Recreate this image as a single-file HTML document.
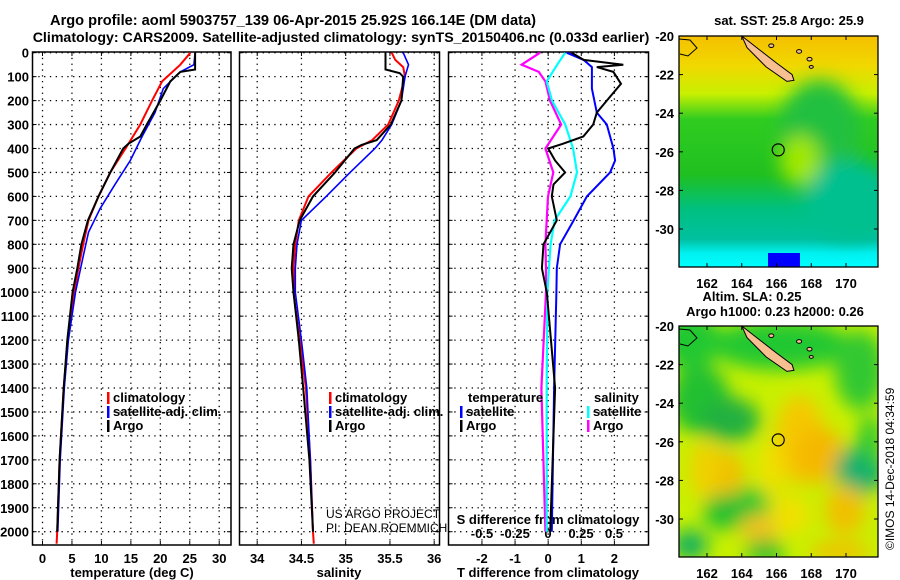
<!DOCTYPE html>
<html><head><meta charset="utf-8"><style>
body{margin:0;background:#fff}
svg{display:block;font-family:"Liberation Sans",sans-serif}
.b{font-weight:bold;font-size:13px}
</style></head><body>
<svg id="s" width="900" height="580" viewBox="0 0 900 580" xmlns="http://www.w3.org/2000/svg">
<defs>
<filter id="bl" x="-50%" y="-50%" width="200%" height="200%"><feGaussianBlur stdDeviation="9"/></filter>
<clipPath id="c1"><rect x="679" y="36" width="199" height="231"/></clipPath>
<clipPath id="c2"><rect x="679" y="326" width="199" height="231"/></clipPath>
<linearGradient id="sst" x1="0" y1="0" x2="0" y2="1">
<stop offset="0" stop-color="#f5c000"/><stop offset="0.13" stop-color="#f0d800"/><stop offset="0.25" stop-color="#c8f000"/>
<stop offset="0.36" stop-color="#30cc20"/><stop offset="0.6" stop-color="#20c020"/><stop offset="0.75" stop-color="#00c080"/>
<stop offset="0.88" stop-color="#00c0a0"/><stop offset="0.94" stop-color="#00f0f0"/><stop offset="1" stop-color="#00ffff"/>
</linearGradient>
</defs>
<text x="293" y="25" class="b" style="font-size:14.6px" text-anchor="middle">Argo profile: aoml 5903757_139 06-Apr-2015 25.92S 166.14E (DM data)</text>
<text x="341" y="42" class="b" style="font-size:14.2px" text-anchor="middle">Climatology: CARS2009. Satellite-adjusted climatology: synTS_20150406.nc (0.033d earlier)</text>
<g id="g"></g>
</svg>
<script>
// ---------- data ----------
var depthTicks=[0,100,200,300,400,500,600,700,800,900,1000,1100,1200,1300,1400,1500,1600,1700,1800,1900,2000];
var tTicks=[0,5,10,15,20,25,30];
var sTicks=[34,34.5,35,35.5,36];
var dTTicks=[-2,-1,0,1,2];
var dSTicks=[-0.5,-0.25,0,0.25,0.5];
var dSLabels=["-0.5","-0.25","0","0.25","0.5"];
var tClimD=[0,50,120,200,300,380,500,600,700,800,900,1000,1200,1400,1700,2000,2050];
var tClim=[25.1,23.4,20.3,18.6,16.6,14.6,11.5,9.5,7.8,6.9,6.1,5.4,4.3,3.6,2.9,2.5,2.4];
var tSatD=[0,50,80,150,250,350,450,550,650,750,850,1000,1200,1400,1700,2000];
var tSat=[25.9,25.7,23.4,20.5,19.1,16.9,14.9,12.3,9.8,7.8,6.9,5.6,4.4,3.7,3.0,2.6];
var tArgoD=[0,70,80,120,200,300,350,380,400,500,600,700,800,900,1000,1200,1400,1700,2000];
var tArgo=[25.9,25.9,23.4,21.7,20.0,17.7,16.6,14.6,13.7,11.5,9.5,7.7,6.6,5.9,5.1,4.2,3.6,2.9,2.5];
var sClimD=[0,30,60,100,200,300,365,400,500,600,700,800,900,1000,1200,1400,1700,2000,2050];
var sClim=[35.52,35.56,35.65,35.67,35.60,35.48,35.30,35.12,34.84,34.58,34.47,34.43,34.41,34.41,34.48,34.55,34.60,34.63,34.64];
var sSatD=[0,50,100,200,300,365,400,500,600,700,800,900,1000,1200,1400,1700,2000];
var sSat=[35.65,35.71,35.67,35.63,35.52,35.41,35.33,35.05,34.78,34.50,34.45,34.43,34.43,34.50,34.56,34.60,34.63];
var sArgoD=[0,70,85,100,200,300,365,385,400,500,600,700,800,900,1000,1200,1400,1700,2000];
var sArgo=[35.45,35.45,35.61,35.65,35.63,35.51,35.35,35.18,35.10,34.88,34.63,34.48,34.41,34.39,34.41,34.47,34.52,34.59,34.63];
var dTArgoD=[0,30,50,60,80,130,200,250,300,350,380,400,450,500,550,600,700,800,900,1000,1400,2000];
var dTArgo=[0.71,1.07,2.27,1.47,1.97,2.2,1.77,1.47,1.36,1.06,0.45,0.0,0.21,0.51,0.16,0.11,0.26,-0.14,-0.19,-0.04,0.21,0.06];
var dTSatD=[0,30,60,150,250,300,400,450,500,600,700,800,900,1000,1400,2000];
var dTSat=[0.56,1.07,1.32,1.32,1.47,1.77,1.97,2.02,1.87,1.17,0.77,0.36,0.26,0.25,0.18,0.11];
var dSArgoD=[0,50,80,120,200,300,400,500,600,700,800,900,1000,1400,2000];
var dSArgo=[-0.06,-0.2,-0.07,-0.02,0.015,0.10,-0.02,0.04,0,-0.01,-0.02,-0.015,-0.015,-0.05,-0.02];
var dSSatD=[0,50,120,200,300,400,500,600,700,800,1000,1400,2000];
var dSSat=[0.13,0.07,-0.01,0.03,0.13,0.19,0.22,0.17,0.05,0.02,-0.005,-0.01,-0.01];
var lonTicks=[162,164,166,168,170];
var latTicks=[-20,-22,-24,-26,-28,-30];
var argoLon=166.1, argoLat=-25.9;

// ---------- helpers ----------
var NS="http://www.w3.org/2000/svg", G=document.getElementById('g');
function mk(t,a,p){var e=document.createElementNS(NS,t);for(var k in a)e.setAttribute(k,a[k]);(p||G).appendChild(e);return e;}
function yD(d){return 52.7+d*0.2395;}
var yTop=52,yBot=545;
var panels=[{x0:32.5,x1:231,lo:-1.7,hi:32.0},{x0:239.5,x1:439.5,lo:33.8,hi:36.06},{x0:448.5,x1:648.5,lo:-3.01,hi:3.03}];
function sx(p,v){var P=panels[p];return P.x0+(v-P.lo)/(P.hi-P.lo)*(P.x1-P.x0);}
function sxS(v){return 548+v*132;}
function line(xs,ds,fx,col,w,name){
  var pts=xs.map(function(v,i){return fx(v).toFixed(1)+','+yD(ds[i]).toFixed(1);}).join(' ');
  var e=mk('polyline',{points:pts,fill:'none',stroke:col,'stroke-width':w});
  
  
}
function txt(x,y,s,opt,name){var e=mk('text',Object.assign({x:x,y:y},opt||{}));e.textContent=s;
  
  return e;}

// grids & frames
panels.forEach(function(P,pi){
  depthTicks.forEach(function(d){var y=yD(d);
    var e=mk('line',{x1:P.x0,x2:P.x1,y1:y,y2:y,stroke:'#000','stroke-dasharray':'1.3,4.5','stroke-width':1.3});
    
    
    mk('line',{x1:P.x0,x2:P.x0+4,y1:y,y2:y,stroke:'#000'});mk('line',{x1:P.x1-4,x2:P.x1,y1:y,y2:y,stroke:'#000'});
  });
  var ticks=pi==0?tTicks:pi==1?sTicks:dTTicks;
  ticks.forEach(function(v){var x=sx(pi,v);
    var e=mk('line',{x1:x,x2:x,y1:yTop,y2:yBot,stroke:'#000','stroke-dasharray':'1.3,4.5','stroke-width':1.3});
    
    
    mk('line',{x1:x,x2:x,y1:yBot-4,y2:yBot,stroke:'#000'});mk('line',{x1:x,x2:x,y1:yTop,y2:yTop+4,stroke:'#000'});
    txt(x,563,String(v),{'class':'b','text-anchor':'middle'},'x-tick-label');
  });
  var f=mk('rect',{x:P.x0,y:yTop,width:P.x1-P.x0,height:yBot-yTop,fill:'none',stroke:'#000','stroke-width':1.5});
  
  
});
depthTicks.forEach(function(d){txt(29,yD(d)+5,String(d),{'class':'b','text-anchor':'end'},'depth-tick-label');});
txt(132,577,'temperature (deg C)',{'class':'b','text-anchor':'middle'},'x-axis-title-temperature');
txt(339,577,'salinity',{'class':'b','text-anchor':'middle'},'x-axis-title-salinity');
txt(548,577,'T difference from climatology',{'class':'b','text-anchor':'middle'},'x-axis-title-t-diff');
txt(548,524,'S difference from climatology',{'class':'b','text-anchor':'middle'},'s-axis-title');
dSTicks.forEach(function(v,i){txt(sxS(v),538,dSLabels[i],{'class':'b','text-anchor':'middle'},'s-tick-label');});

// series
line(tClim,tClimD,function(v){return sx(0,v);},'#f00',2,'temp-climatology-line');
line(tSat,tSatD,function(v){return sx(0,v);},'#00f',1.6,'temp-satellite-line');
line(tArgo,tArgoD,function(v){return sx(0,v);},'#000',2,'temp-argo-line');
line(sClim,sClimD,function(v){return sx(1,v);},'#f00',2,'sal-climatology-line');
line(sSat,sSatD,function(v){return sx(1,v);},'#00f',1.6,'sal-satellite-line');
line(sArgo,sArgoD,function(v){return sx(1,v);},'#000',2,'sal-argo-line');
line(dSArgo,dSArgoD,sxS,'#f0f',2.2,'sdiff-argo-line');
line(dSSat,dSSatD,sxS,'#0ff',2.2,'sdiff-satellite-line');
line(dTSat,dTSatD,function(v){return sx(2,v);},'#00f',2,'tdiff-satellite-line');
line(dTArgo,dTArgoD,function(v){return sx(2,v);},'#000',2,'tdiff-argo-line');

// legends
function leg(x,y,col,s,name){var r=mk('rect',{x:x,y:y-10,width:2.5,height:12,fill:col});
  
  txt(x+6,y,s,{'class':'b'},name);}
leg(107,402,'#f00','climatology','legend-temp-climatology');
leg(107,416,'#00f','satellite-adj. clim.','legend-temp-satellite');
leg(107,430,'#000','Argo','legend-temp-argo');
leg(329,402,'#f00','climatology','legend-sal-climatology');
leg(329,416,'#00f','satellite-adj. clim.','legend-sal-satellite');
leg(329,430,'#000','Argo','legend-sal-argo');
txt(468,402,'temperature',{'class':'b'},'legend-temperature-heading');
leg(460,416,'#00f','satellite','legend-tdiff-satellite');
leg(460,430,'#000','Argo','legend-tdiff-argo');
txt(594,402,'salinity',{'class':'b'},'legend-salinity-heading');
leg(587,416,'#0ff','satellite','legend-sdiff-satellite');
leg(587,430,'#f0f','Argo','legend-sdiff-argo');
txt(326,518,'US ARGO PROJECT',{'font-size':12},'credit-project');
txt(326,532,'PI: DEAN ROEMMICH',{'font-size':12},'credit-pi');

// maps
function mlx(l){return 707+(l-162)*17.375;}
var maps=[{y0:36,clip:'c1',title:['sat. SST: 25.8 Argo: 25.9'],tx:[789],ty:[25]},{y0:326,clip:'c2',title:['Altim. SLA: 0.25','Argo h1000: 0.23 h2000: 0.26'],tx:[752,775],ty:[301,316]}];
maps.forEach(function(M,mi){
  function mly(l){return M.y0+(-20-l)*19.3;}
  var g=mk('g',{'clip-path':'url(#'+M.clip+')'});
  
  
  if(mi==0){
    mk('rect',{x:679,y:36,width:199,height:231,fill:'url(#sst)'},g);
    var b=mk('g',{filter:'url(#bl)'},g);
    mk('ellipse',{cx:820,cy:130,rx:40,ry:50,fill:'#20c040'},b);
    mk('ellipse',{cx:850,cy:200,rx:45,ry:40,fill:'#00c090'},b);
    mk('ellipse',{cx:800,cy:160,rx:20,ry:25,fill:'#a0e800'},b);
    mk('rect',{x:768,y:253,width:32,height:14,fill:'#0000ff'},g);
  } else {
    mk('rect',{x:679,y:326,width:199,height:231,fill:'#c8f000'},g);
    var b=mk('g',{filter:'url(#bl)'},g);
    [[690,340,30,30,'#20c830'],[780,345,70,25,'#20c830'],[860,370,25,40,'#30c830'],[700,400,30,35,'#20c030'],[730,420,30,22,'#20b040'],
     [800,440,25,45,'#f5c800'],[820,455,25,28,'#f5b800'],[860,470,25,25,'#10b070'],[725,475,20,25,'#f0c000'],[705,470,15,30,'#f0d000'],
     [770,470,12,30,'#f0e000'],[750,505,20,18,'#20c830'],[725,512,22,18,'#20c030'],[760,528,20,14,'#f0c020'],[790,515,20,20,'#f0e000'],
     [845,510,20,25,'#f0c000'],[690,545,18,15,'#10b060'],[765,552,20,12,'#20c030'],[840,552,30,10,'#f0c000'],[870,440,12,25,'#30c830']
    ].forEach(function(c){mk('ellipse',{cx:c[0],cy:c[1],rx:c[2],ry:c[3],fill:c[4]},b);});
  }
  // New Caledonia
  var nc=[[164,-20],[165,-20.7],[166,-21.4],[166.9,-22],[167,-22.3],[166.6,-22.35],[165.4,-21.6],[164.3,-20.6]];
  var p=mk('polygon',{points:nc.map(function(q){return mlx(q[0]).toFixed(1)+','+mly(q[1]).toFixed(1);}).join(' '),fill:'#f8c090',stroke:'#000','stroke-width':1},g);
  
  [[167.3,-20.8,0.15],[167.9,-21.2,0.15],[168,-21.6,0.12],[165.7,-20.5,0.15]].forEach(function(q){
    mk('ellipse',{cx:mlx(q[0]),cy:mly(q[1]),rx:q[2]*17,ry:q[2]*12,fill:'#f8c090',stroke:'#000'},g);});
  mk('path',{d:'M679 '+(M.y0+3)+' L690 '+(M.y0+4)+' L697 '+(M.y0+12)+' L688 '+(M.y0+20)+' L680 '+(M.y0+18),fill:'none',stroke:'#000'},g);
  var c=mk('circle',{cx:mlx(argoLon),cy:mly(argoLat),r:6,fill:'none',stroke:'#000','stroke-width':1.2});
  
  var fr=mk('rect',{x:679,y:M.y0,width:199,height:231,fill:'none',stroke:'#000','stroke-width':1.3});
  
  lonTicks.forEach(function(l){var x=mlx(l);mk('line',{x1:x,x2:x,y1:M.y0,y2:M.y0+4,stroke:'#000'});mk('line',{x1:x,x2:x,y1:M.y0+227,y2:M.y0+231,stroke:'#000'});
    txt(x,M.y0+252,String(l),{'class':'b','text-anchor':'middle'},'map-lon-label');});
  latTicks.forEach(function(l){var y=mly(l);mk('line',{x1:679,x2:683,y1:y,y2:y,stroke:'#000'});mk('line',{x1:874,x2:878,y1:y,y2:y,stroke:'#000'});
    txt(674,y+5,String(l),{'class':'b','text-anchor':'end'},'map-lat-label');});
  M.title.forEach(function(t,i){txt(M.tx[i],M.ty[i],t,{'class':'b','text-anchor':'middle'},'map-title');});
});
var im=txt(0,0,'©IMOS 14-Dec-2018 04:34:59',{'font-size':12,transform:'translate(894,550) rotate(-90)'},'imos-timestamp');
</script>
</body></html>
